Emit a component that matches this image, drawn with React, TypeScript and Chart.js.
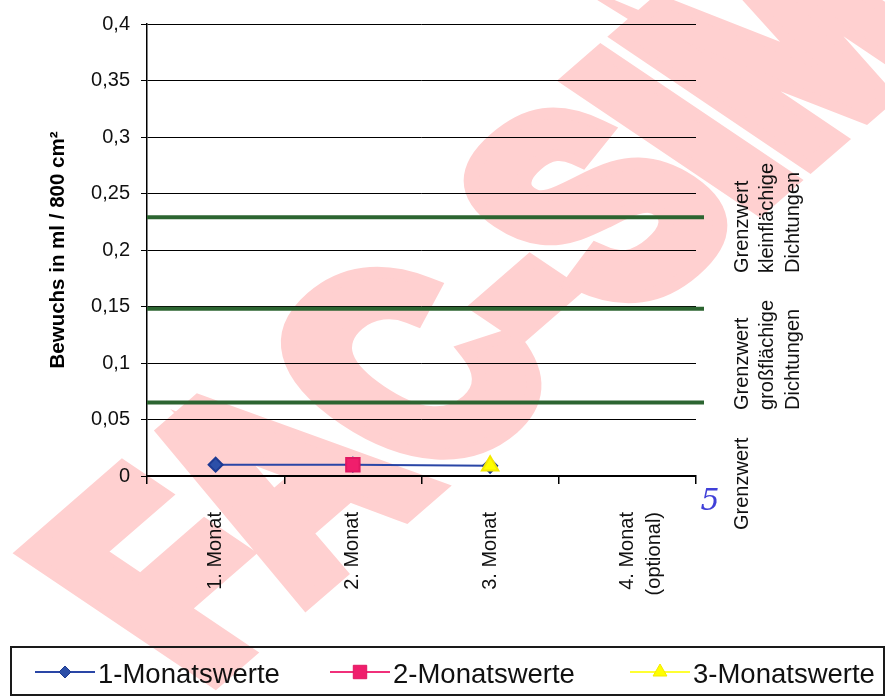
import React, { useEffect, useRef } from 'react';
import { Chart, registerables } from 'chart.js';

Chart.register(...registerables);

// ---- data ----
const categories: (string | string[])[] = ['1. Monat', '2. Monat', '3. Monat', ['4. Monat', '(optional)']];
const seriesNames = ['1-Monatswerte', '2-Monatswerte', '3-Monatswerte'];
const series1 = [0.01, 0.01, 0.009, null];
const series2 = [null, 0.01, null, null];
const series3 = [null, null, 0.009, null];
const yTickLabels = ['0', '0,05', '0,1', '0,15', '0,2', '0,25', '0,3', '0,35', '0,4'];
const thresholds = [0.229, 0.148, 0.065];
const thresholdLabels = [
  ['Grenzwert', 'kleinflächige', 'Dichtungen'],
  ['Grenzwert', 'großflächige', 'Dichtungen'],
  ['Grenzwert'],
];
const yTitle = 'Bewuchs in ml / 800 cm²';
const watermarkText = 'FAC-SIMILE';
const handNote = '5';

const FONT = '"Liberation Sans", Arial, sans-serif';

function drawMarker(ctx: CanvasRenderingContext2D, style: string, x: number, y: number, r: number, fill: string, stroke: string) {
  ctx.save();
  ctx.fillStyle = fill;
  ctx.strokeStyle = stroke;
  ctx.lineWidth = 1;
  ctx.beginPath();
  if (style === 'rectRot') {
    ctx.moveTo(x, y - r);
    ctx.lineTo(x + r, y);
    ctx.lineTo(x, y + r);
    ctx.lineTo(x - r, y);
    ctx.closePath();
  } else if (style === 'rect') {
    const s = r * Math.SQRT1_2;
    ctx.rect(x - s, y - s, 2 * s, 2 * s);
  } else {
    ctx.moveTo(x, y - r);
    ctx.lineTo(x + r * Math.sin(Math.PI / 3), y + r * 0.5);
    ctx.lineTo(x - r * Math.sin(Math.PI / 3), y + r * 0.5);
    ctx.closePath();
  }
  ctx.fill();
  ctx.stroke();
  ctx.restore();
}

const watermarkPlugin = {
  id: 'watermark',
  beforeDraw(chart: any) {
    const ctx: CanvasRenderingContext2D = chart.ctx;
    ctx.save();
    ctx.transform(0.72, -0.625, 1.03, 0.695, 200, 685);
    ctx.font = `bold 252px ${FONT}`;
    ctx.fillStyle = '#ffd0d0';
    ctx.strokeStyle = '#ffd0d0';
    ctx.lineWidth = 24;
    ctx.lineJoin = 'miter';
    ctx.textBaseline = 'alphabetic';
    ctx.textAlign = 'left';
    ctx.strokeText(watermarkText, 0, 0);
    ctx.fillText(watermarkText, 0, 0);
    ctx.restore();
  },
};

const thresholdPlugin = {
  id: 'thresholds',
  beforeDatasetsDraw(chart: any) {
    const ctx: CanvasRenderingContext2D = chart.ctx;
    const { left, right } = chart.chartArea;
    const yScale = chart.scales.y;
    ctx.save();
    ctx.strokeStyle = '#2c6531';
    ctx.lineWidth = 4;
    thresholds.forEach((t) => {
      const y = yScale.getPixelForValue(t);
      ctx.beginPath();
      ctx.moveTo(left, y);
      ctx.lineTo(right + 8, y);
      ctx.stroke();
    });
    ctx.restore();
  },
  afterDraw(chart: any) {
    const ctx: CanvasRenderingContext2D = chart.ctx;
    const { right, bottom } = chart.chartArea;
    const starts = [273, 410, 530];
    ctx.save();
    ctx.fillStyle = '#111';
    ctx.font = `20px ${FONT}`;
    ctx.textAlign = 'left';
    ctx.textBaseline = 'middle';
    thresholdLabels.forEach((lines, b) => {
      lines.forEach((txt, i) => {
        ctx.save();
        ctx.translate(right + 46 + i * 25.5, starts[b]);
        ctx.rotate(-Math.PI / 2);
        ctx.fillText(txt, 0, 0);
        ctx.restore();
      });
    });
    // handwritten mark
    ctx.fillStyle = '#4040d8';
    ctx.font = `italic 30px "DejaVu Serif", serif`;
    ctx.textAlign = 'center';
    ctx.fillText(handNote, right + 14, bottom + 26);
    ctx.restore();
  },
};

const legendPlugin = {
  id: 'boxLegend',
  afterDraw(chart: any) {
    const ctx: CanvasRenderingContext2D = chart.ctx;
    ctx.save();
    ctx.strokeStyle = '#1a1a1a';
    ctx.lineWidth = 2;
    ctx.strokeRect(11, 647, 873, 48);
    const xs = [35, 330, 630];
    const y = 672;
    chart.data.datasets.forEach((ds: any, i: number) => {
      ctx.strokeStyle = ds.borderColor;
      ctx.lineWidth = 2;
      ctx.beginPath();
      ctx.moveTo(xs[i], y);
      ctx.lineTo(xs[i] + 60, y);
      ctx.stroke();
      drawMarker(ctx, ds.pointStyle, xs[i] + 30, y, ds.legendRadius, ds.backgroundColor, ds.pointBorderColor);
      ctx.fillStyle = '#111';
      ctx.font = `27.5px ${FONT}`;
      ctx.textAlign = 'left';
      ctx.textBaseline = 'alphabetic';
      ctx.fillText(ds.label, xs[i] + 63, 683);
    });
    ctx.restore();
  },
};

export default function App() {
  const ref = useRef<HTMLCanvasElement | null>(null);

  useEffect(() => {
    document.body.style.margin = '0';
    document.body.style.overflow = 'hidden';
    const canvas = ref.current;
    if (!canvas) return;
    const chart = new Chart(canvas, {
      type: 'line',
      data: {
        labels: categories as any,
        datasets: [
          {
            label: seriesNames[0],
            data: series1,
            borderColor: '#2a46a6',
            backgroundColor: '#2c4fa8',
            pointBorderColor: '#1d3a92',
            pointStyle: 'rectRot',
            pointRadius: 7,
            borderWidth: 2,
            order: 3,
            legendRadius: 6,
          } as any,
          {
            label: seriesNames[1],
            data: series2,
            borderColor: '#f0307a',
            backgroundColor: '#f01e6c',
            pointBorderColor: '#e01862',
            pointStyle: 'rect',
            pointRadius: 9.5,
            borderWidth: 2,
            order: 2,
            legendRadius: 9.5,
          } as any,
          {
            label: seriesNames[2],
            data: series3,
            borderColor: '#ffff33',
            backgroundColor: '#ffff00',
            pointBorderColor: '#f4e800',
            pointStyle: 'triangle',
            pointRadius: 9.5,
            borderWidth: 2,
            order: 1,
            legendRadius: 8,
          } as any,
        ],
      },
      options: {
        responsive: false,
        animation: false,
        layout: { padding: { top: 24, right: 189, bottom: 52, left: 0 } },
        plugins: {
          legend: { display: false },
          tooltip: { enabled: false },
        },
        scales: {
          x: {
            type: 'category',
            offset: true,
            grid: {
              offset: true,
              drawOnChartArea: false,
              drawTicks: true,
              tickLength: 8,
              color: '#000',
              lineWidth: 1.5,
            },
            border: { color: '#000', width: 2 },
            ticks: {
              autoSkip: false,
              maxRotation: 90,
              minRotation: 90,
              padding: 28,
              color: '#111',
              font: { family: FONT, size: 20, lineHeight: 1.35 },
            },
            afterFit: (s: any) => {
              s.height = 697 - 52 - 476;
            },
          },
          y: {
            min: 0,
            max: 0.4,
            ticks: {
              stepSize: 0.05,
              padding: 11,
              color: '#111',
              font: { family: FONT, size: 20 },
              callback: (v: any) => yTickLabels[Math.round(Number(v) * 20)] ?? '',
            },
            grid: { color: '#000', lineWidth: 1, tickLength: 6, drawTicks: true },
            border: { color: '#000', width: 1.5 },
            title: {
              display: true,
              text: yTitle,
              color: '#000',
              font: { family: FONT, size: 20.5, weight: 'bold' },
              padding: { top: 46, bottom: 0 },
            },
            afterFit: (s: any) => {
              s.width = 147;
            },
          },
        },
      } as any,
      plugins: [watermarkPlugin, thresholdPlugin, legendPlugin],
    });
    return () => chart.destroy();
  }, []);

  return (
    <div style={{ width: 885, height: 697 }}>
      <canvas ref={ref} width={885} height={697} style={{ display: 'block' }} />
    </div>
  );
}
